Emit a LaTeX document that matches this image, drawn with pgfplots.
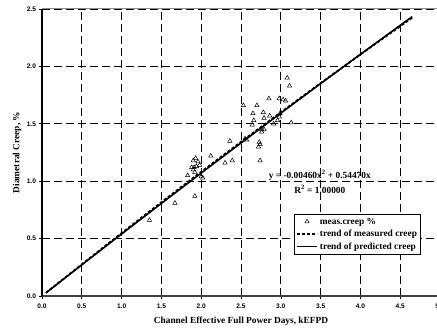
\documentclass[border=0pt]{standalone}
\usepackage{fontspec}
\setmainfont{Liberation Serif}
\setsansfont{Liberation Sans}
\usepackage{pgfplots}
\pgfplotsset{compat=1.18}
\pgfplotsset{
  myleglines/.style={legend image code/.code={\draw[##1] (0bp,0bp) -- (20bp,0bp);}},
  mylegmark/.style={legend image code/.code={\draw[mark repeat=2,mark phase=2,##1] plot coordinates {(0bp,0bp) (10bp,0bp) (20bp,0bp)};}},
}
\begin{document}
\begin{tikzpicture}
\begin{axis}[
  at={(0,0)}, anchor=south west,
  scale only axis, width=398bp, height=287bp,
  xmin=0, xmax=5, ymin=0, ymax=2.5,
  xtick={0,0.5,...,5}, ytick={0,0.5,...,2.5},
  axis x line*=bottom, axis y line*=left,
  axis line style={-, line width=1.3bp},
  x axis line style={black!75},
  tick style={black, line width=0.6bp},
  major tick length=2.5bp,
  tick align=outside,
  grid=major,
  major grid style={black, line width=0.7bp, dash pattern=on 8bp off 4bp},
  /pgf/number format/assume math mode=true,
  /pgf/number format/.cd, fixed, fixed zerofill, precision=1, /pgfplots/.cd,
  ticklabel style={font=\sffamily\bfseries\fontsize{6.6}{7}\selectfont},
  xticklabel style={yshift=-1.5bp},
  xlabel={Channel Effective Full Power Days, kEFPD},
  ylabel={Diametral Creep, \%},
  every axis x label/.style={at={([yshift=-25.7bp]rel axis cs:0.5,0)}, anchor=center, font=\bfseries\fontsize{9.4}{10}\selectfont},
  every axis y label/.style={at={([xshift=-25bp]rel axis cs:0,0.5)}, rotate=90, anchor=center, font=\bfseries\fontsize{9.4}{10}\selectfont},
  legend style={at={(rel axis cs:0.952,0.286)}, anchor=north east, draw=black, line width=0.9bp,
    font=\bfseries\fontsize{9.4}{11}\selectfont, inner sep=1.5bp, row sep=0.5bp, cells={anchor=west}},
  legend cell align=left,
  myleglines,
]
\draw[black!45, line width=1bp] (rel axis cs:0,1) -- (rel axis cs:1,1);
\addplot[only marks, mark=triangle, mark size=2.5bp, mark options={black, line width=0.5bp, fill=white}, mylegmark] coordinates {
(1.35,0.66) (1.67,0.81) (1.92,0.87) (1.83,1.05) (2.00,1.04) (2.02,1.03)
(1.90,1.10) (1.92,1.08) (1.91,1.12) (1.94,1.13) (1.98,1.14) (1.88,1.12)
(1.90,1.18) (1.93,1.20) (1.96,1.17) (2.12,1.22) (2.30,1.16) (2.39,1.18)
(2.36,1.35) (2.53,1.66) (2.70,1.66) (2.55,1.37) (2.57,1.36) (2.66,1.53)
(2.64,1.49) (2.72,1.30) (2.73,1.34) (2.74,1.32) (2.74,1.18) (2.76,1.45)
(2.79,1.45) (2.76,1.43) (2.79,1.55) (2.85,1.72) (2.86,1.57) (2.91,1.50)
(2.96,1.53) (2.98,1.56) (2.98,1.72) (3.03,1.71) (3.06,1.70) (3.08,1.90)
(3.11,1.83) (3.13,1.51) (2.78,1.60) (2.99,1.59) (2.65,1.59)
};
\addlegendentry{meas.creep \%}
\addplot[black, line width=1.8bp, dash pattern=on 3bp off 2bp] coordinates {
(0.05,0.0278) (0.5,0.2761) (1,0.5485) (1.5,0.8171) (2,1.082) (2.5,1.3431)
(3,1.6005) (3.5,1.8541) (4,2.104) (4.65,2.4232)
};
\addlegendentry{trend of measured creep}
\addplot[black, line width=1.6bp] coordinates {
(0.05,0.0272) (0.5,0.2712) (1,0.5401) (1.5,0.8067) (2,1.0710) (2.5,1.3330)
(3,1.5927) (3.5,1.8501) (4,2.1052) (4.65,2.4334)
};
\addlegendentry{trend of predicted creep}
\node[font=\bfseries\fontsize{9.4}{10}\selectfont] at (axis cs:3.49,1.054) {y = -0.00460x\textsuperscript{2} + 0.54470x};
\node[font=\bfseries\fontsize{9.4}{10}\selectfont] at (axis cs:3.49,0.93) {R\textsuperscript{2} = 1.00000};
\end{axis}
\pgfresetboundingbox
\path (-42bp,-33bp) rectangle (395bp,296bp);
\end{tikzpicture}
\end{document}
